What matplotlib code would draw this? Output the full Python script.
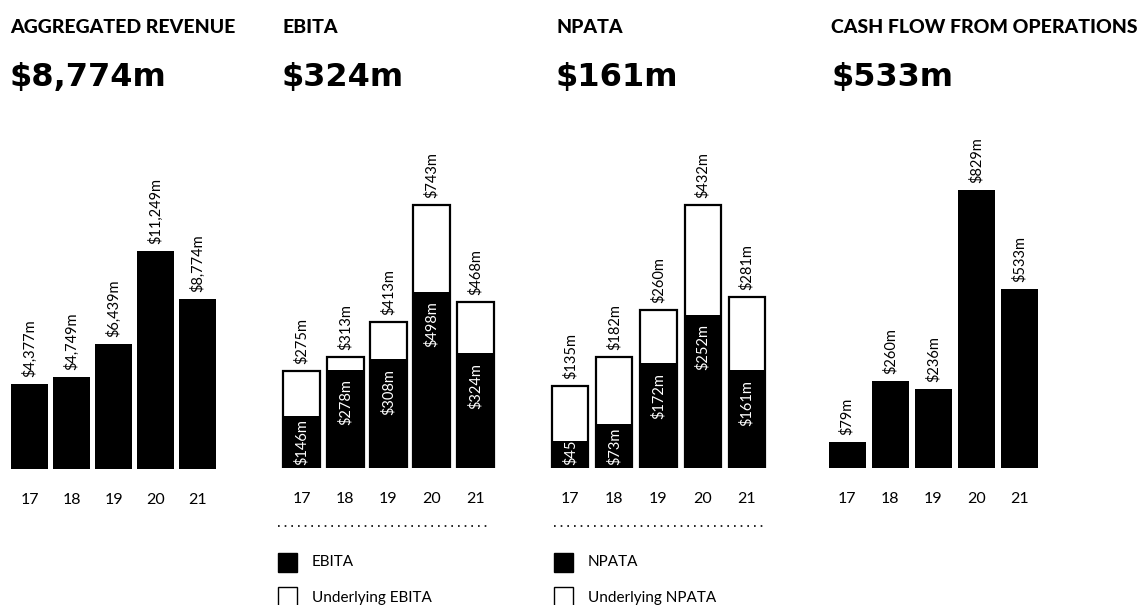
import matplotlib.pyplot as plt
from matplotlib.patches import Rectangle

years = ['17', '18', '19', '20', '21']
revenue = [4377, 4749, 6439, 11249, 8774]
ebita = [146, 278, 308, 498, 324]
underlying_ebita = [275, 313, 413, 743, 468]
npata = [45, 73, 172, 252, 161]
underlying_npata = [135, 182, 260, 432, 281]
cash_flow = [79, 260, 236, 829, 533]

titles = ['AGGREGATED REVENUE', 'EBITA', 'NPATA', 'CASH FLOW FROM OPERATIONS']

W, H = 1144, 605
plt.rcParams['font.family'] = ['Lato', 'DejaVu Sans']

fig = plt.figure(figsize=(W / 100, H / 100), dpi=100)

# overlay in pixel coordinates for titles and legends
over = fig.add_axes([0, 0, 1, 1])
over.set_xlim(0, W)
over.set_ylim(H, 0)
over.axis('off')

LABEL_SIZE = 10.5


def money(v):
    return f"${v:,}m"


def panel_axes(left, width, baseline, ax_h=300):
    ax = fig.add_axes([left / W, 1 - baseline / H, width / W, ax_h / H])
    for s in ax.spines.values():
        s.set_visible(False)
    ax.set_yticks([])
    ax.set_xlim(-0.5, 4.5)
    ax.set_xticks(range(len(years)))
    ax.set_xticklabels(years, fontsize=11.5)
    ax.tick_params(axis='x', length=0, pad=17)
    ax.patch.set_alpha(0)
    return ax


def simple_panel(left, width, baseline, values, max_px, bw):
    ax = panel_axes(left, width, baseline)
    ax.set_ylim(0, max(values) * 300 / max_px)
    ax.bar(range(len(values)), values, width=bw, color='black')
    for i, v in enumerate(values):
        ax.annotate(money(v), (i, v), xytext=(0, 5), textcoords='offset points',
                    rotation=90, ha='center', va='bottom', fontsize=LABEL_SIZE)
    return ax


def stacked_panel(left, width, baseline, base, under, max_px, bw):
    ax = panel_axes(left, width, baseline)
    top = max(under) * 300 / max_px
    ax.set_ylim(0, top)
    x = range(len(base))
    ax.bar(x, under, width=bw, facecolor='white', edgecolor='black', linewidth=1.6)
    ax.bar(x, base, width=bw, color='black')
    for i, (b, u) in enumerate(zip(base, under)):
        ax.annotate(money(u), (i, u), xytext=(0, 5), textcoords='offset points',
                    rotation=90, ha='center', va='bottom', fontsize=LABEL_SIZE)
        if b * 300 / top >= 65:
            ax.annotate(money(b), (i, b), xytext=(0, -7), textcoords='offset points',
                        rotation=90, ha='center', va='top', fontsize=LABEL_SIZE, color='white')
        else:
            ax.annotate(money(b), (i, 0), xytext=(0, 2), textcoords='offset points',
                        rotation=90, ha='center', va='bottom', fontsize=LABEL_SIZE, color='white')
    return ax


simple_panel(8.5, 210, 469, revenue, 218, 0.88)
stacked_panel(280, 217, 468, ebita, underlying_ebita, 263, 0.85)
stacked_panel(548, 221, 468, npata, underlying_npata, 263, 0.82)
simple_panel(825.5, 215.5, 468, cash_flow, 278, 0.86)

# headers
heads = [revenue[-1], ebita[-1], npata[-1], cash_flow[-1]]
title_x = [10, 282, 556, 831]
for tx, t, h in zip(title_x, titles, heads):
    over.text(tx, 33, t, fontsize=14, fontweight='black', va='baseline', ha='left')
    over.text(tx, 86, money(h), fontsize=23, fontweight='bold', va='baseline', ha='left',
              family='DejaVu Sans')

# legends
legends = [(278, 490, 'EBITA'), (554, 767, 'NPATA')]
for lx, rx, name in legends:
    over.plot([lx, rx], [526, 526], color='black', lw=1.2, linestyle=(0, (1, 3)))
    over.add_patch(Rectangle((lx, 553), 19, 19, facecolor='black', edgecolor='black', lw=1))
    over.add_patch(Rectangle((lx, 587), 19, 19, facecolor='white', edgecolor='black', lw=1))
    over.text(lx + 34, 562, name, fontsize=11, va='center', ha='left')
    over.text(lx + 34, 598, 'Underlying ' + name, fontsize=11, va='center', ha='left')

fig.savefig('out.png', dpi=100)
